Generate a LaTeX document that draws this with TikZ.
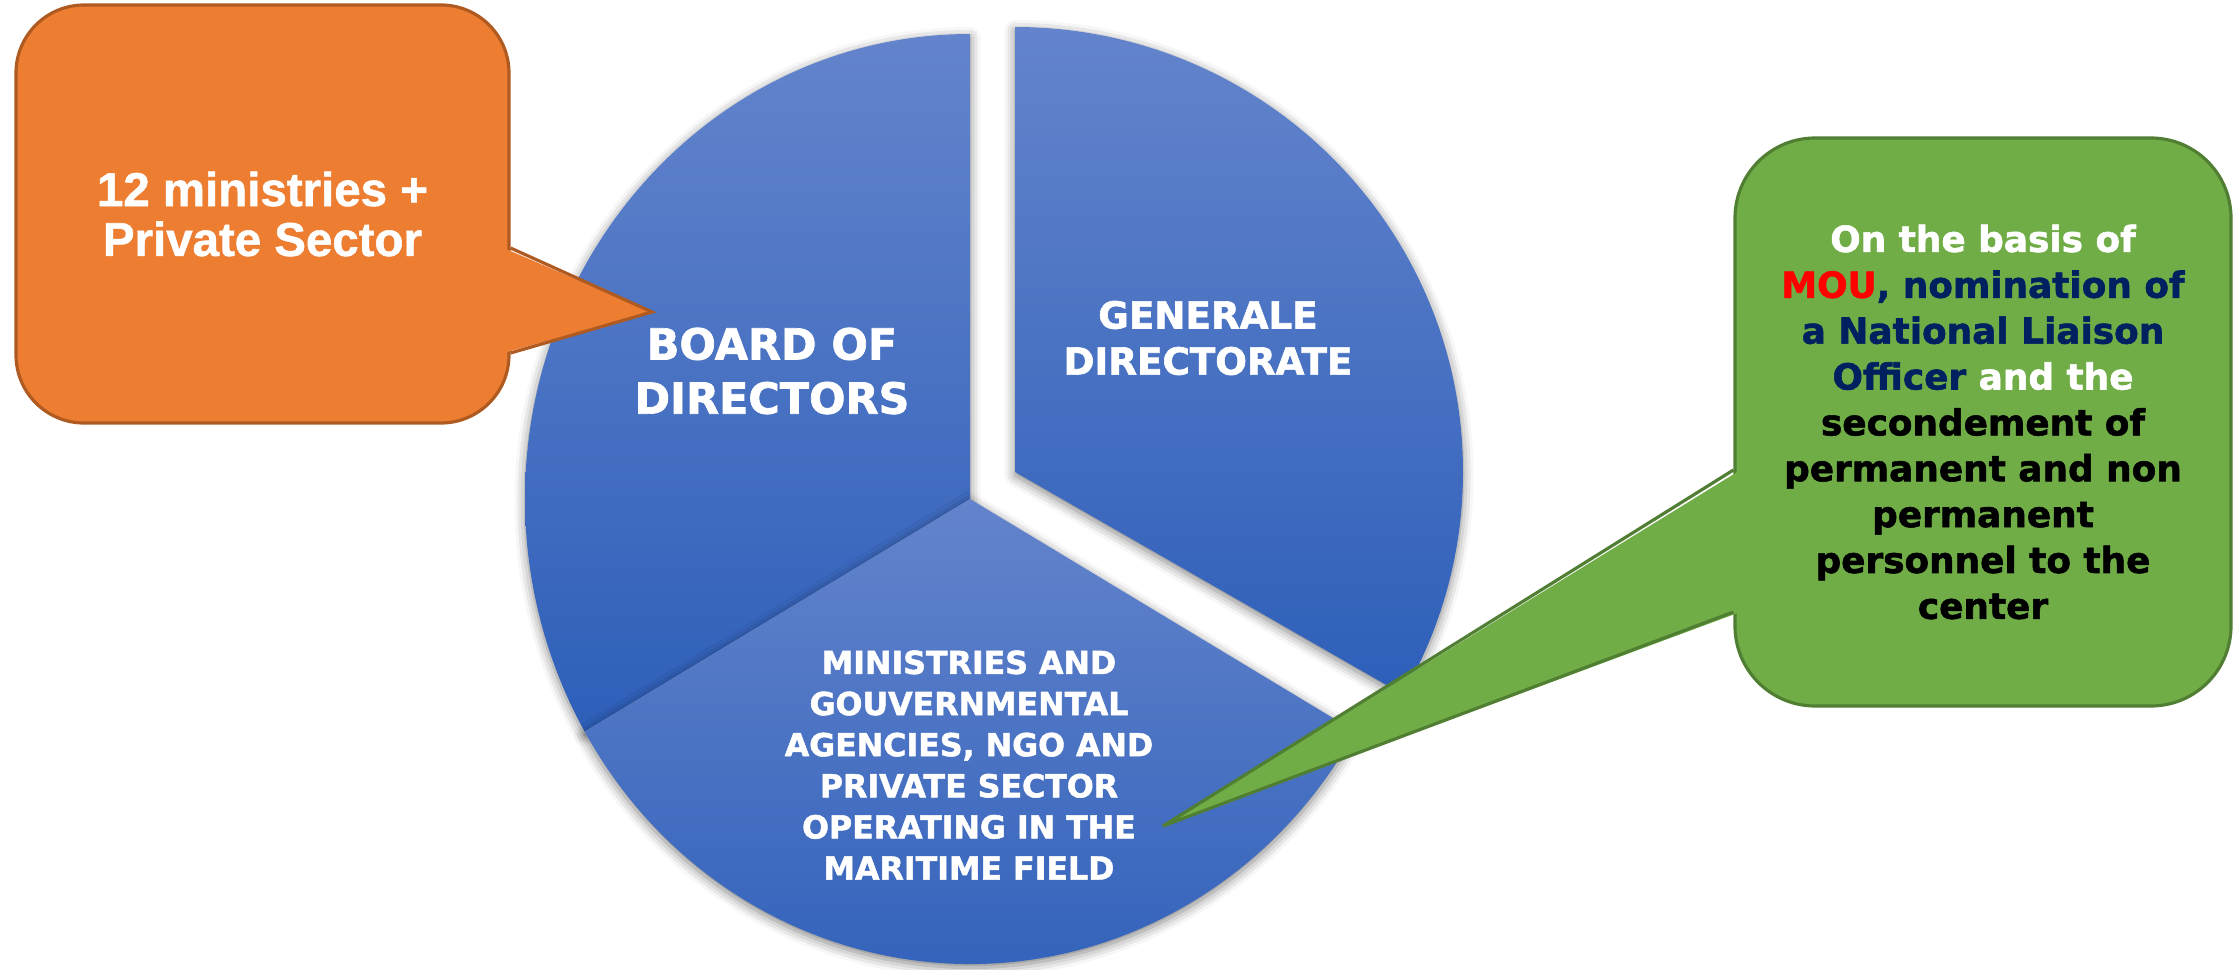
\documentclass[tikz,border=0pt]{standalone}
\usepackage{fontspec}
\setmainfont{Liberation Sans}[BoldFeatures={FakeBold=1.2}]
\newfontfamily\heavyfont{DejaVu Sans}[BoldFeatures={FakeBold=1.6}]
\usetikzlibrary{shadows.blur}
\definecolor{pietop}{HTML}{6384CC}
\definecolor{piebot}{HTML}{2E5FB9}
\definecolor{orangefill}{HTML}{ED7D31}
\definecolor{orangeline}{HTML}{AE5A21}
\definecolor{greenfill}{HTML}{70AD47}
\definecolor{greenline}{HTML}{507E32}
\definecolor{navy}{HTML}{002060}
\begin{document}
\begin{tikzpicture}[
  slice/.style={top color=pietop, bottom color=piebot,
    blur shadow={shadow xshift=0pt, shadow yshift=-1pt, shadow blur radius=3pt, shadow opacity=50}},
  slicetext/.style={text=white, align=center},
  callbox/.style={rounded corners=#1, line width=0.9pt, align=center, inner sep=0pt}]

\useasboundingbox (0,0) rectangle (22.33,9.69);

\shade[slice] (9.70,4.70) -- ++(0,4.65) arc[start angle=90, end angle=210, x radius=4.45cm, y radius=4.65cm] -- cycle;
\shade[slice] (10.15,4.97) -- ++(0,4.45) arc[start angle=90, end angle=-30, x radius=4.48cm, y radius=4.45cm] -- cycle;
\shade[slice] (9.70,4.70) -- ++(-3.854,-2.325) arc[start angle=210, end angle=330, x radius=4.45cm, y radius=4.65cm] -- cycle;

\node[slicetext, font=\heavyfont\bfseries\fontsize{12.2}{15.4}\selectfont] (board) at (7.72,5.98) {BOARD OF\\DIRECTORS};
\node[slicetext, font=\heavyfont\bfseries\fontsize{10.6}{13.1}\selectfont] (generale) at (12.08,6.31) {GENERALE\\DIRECTORATE};
\node[slicetext, font=\heavyfont\bfseries\fontsize{9}{11.7}\selectfont] (ministries) at (9.69,2.04)
  {MINISTRIES AND\\GOUVERNMENTAL\\AGENCIES, NGO AND\\PRIVATE SECTOR\\OPERATING IN THE\\MARITIME FIELD};

\node[callbox=0.68cm, fill=orangefill, draw=orangeline, minimum width=4.93cm, minimum height=4.18cm,
  text=white, font=\bfseries\fontsize{13.5}{14.2}\selectfont] (orangebox) at (2.625,7.55)
  {12 ministries +\\Private Sector};
\coordinate (orangetip) at (6.52,6.57);
\fill[orangefill] ([xshift=-2pt,yshift=-0.34cm]orangebox.east) -- (orangetip) -- ([xshift=-2pt,yshift=-1.39cm]orangebox.east) -- cycle;
\draw[orangeline, line width=0.9pt] ([yshift=-0.34cm]orangebox.east) -- (orangetip) -- ([yshift=-1.39cm]orangebox.east);

\node[callbox=0.8cm, fill=greenfill, draw=greenline, minimum width=4.96cm, minimum height=5.68cm,
  font=\heavyfont\bfseries\fontsize{10.2}{13.05}\selectfont] (greenbox) at (19.83,5.47)
  {\textcolor{white}{On the basis of}\\
   \textcolor{red}{MOU}\textcolor{navy}{, nomination of}\\
   \textcolor{navy}{a National Liaison}\\
   \textcolor{navy}{Officer} \textcolor{white}{and the}\\
   secondement of\\
   permanent and non\\
   permanent\\
   personnel to the\\
   center};
\coordinate (greentip) at (11.63,1.43);
\fill[greenfill] ([xshift=2pt,yshift=-0.48cm]greenbox.west) -- (greentip) -- ([xshift=2pt,yshift=-1.90cm]greenbox.west) -- cycle;
\draw[greenline, line width=0.9pt] ([yshift=-0.48cm]greenbox.west) -- (greentip) -- ([yshift=-1.90cm]greenbox.west);

\end{tikzpicture}
\end{document}
